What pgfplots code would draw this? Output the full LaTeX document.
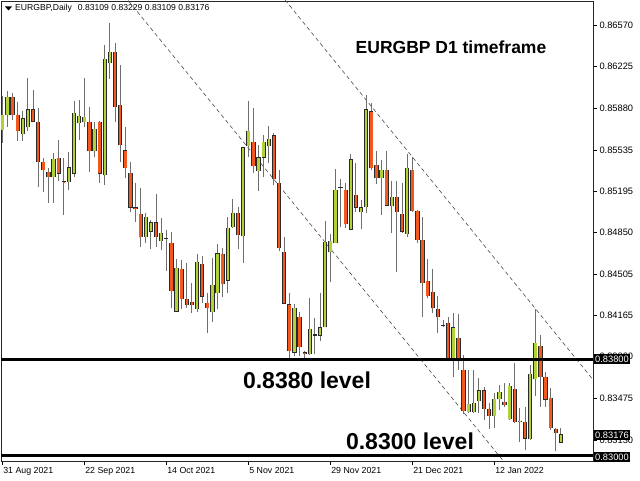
\documentclass[border=0pt]{standalone}
\usepackage{pgfplots}
\usepackage{pgfplotstable}
\pgfplotsset{compat=1.18}
\usepackage{fontspec}
\setmainfont{Liberation Sans}
\definecolor{bullc}{HTML}{B0D236}
\definecolor{bearc}{HTML}{F2591E}
\definecolor{wickc}{HTML}{6E6E6E}
\definecolor{edgec}{HTML}{2A2A2A}

% bullish candles (close >= open)
\pgfplotstableread{
i O H L C
0 0.85699 0.85981 0.85591 0.85824
1 0.85824 0.86023 0.85724 0.85973
4 0.85666 0.85857 0.85608 0.85791
5 0.85724 0.86130 0.85691 0.85873
10 0.85310 0.85509 0.85094 0.85459
13 0.85268 0.85517 0.85202 0.85392
14 0.85335 0.85940 0.85310 0.85840
15 0.85757 0.85948 0.85616 0.85815
16 0.85766 0.86130 0.85724 0.85807
18 0.85525 0.85766 0.85475 0.85708
20 0.85326 0.86404 0.85243 0.86288
21 0.86255 0.86587 0.86122 0.86346
28 0.84812 0.85011 0.84762 0.84978
29 0.84854 0.84953 0.84713 0.84936
31 0.84779 0.84970 0.84704 0.84845
34 0.84198 0.84630 0.84195 0.84555
38 0.84215 0.84671 0.84190 0.84605
41 0.84190 0.84638 0.84107 0.84414
42 0.84348 0.84754 0.84215 0.84679
44 0.84455 0.84978 0.84348 0.84887
45 0.84895 0.85127 0.84887 0.85011
47 0.84820 0.85558 0.84596 0.85555
48 0.85567 0.85940 0.85475 0.85691
50 0.85359 0.85575 0.85193 0.85475
51 0.85475 0.85658 0.85310 0.85600
52 0.85567 0.85732 0.85426 0.85625
57 0.83858 0.84256 0.83825 0.84223
60 0.83842 0.84306 0.83834 0.84049
61 0.83999 0.84140 0.83842 0.84001
62 0.83999 0.84348 0.83950 0.84058
63 0.84066 0.84945 0.84063 0.84771
64 0.84688 0.84837 0.84439 0.84779
65 0.84762 0.85376 0.84759 0.85202
68 0.84878 0.85500 0.84870 0.85451
70 0.85019 0.85119 0.84878 0.85053
71 0.85061 0.85990 0.85011 0.85873
74 0.85301 0.85451 0.84995 0.85368
76 0.85069 0.85276 0.84845 0.85144
79 0.84837 0.85500 0.84812 0.85384
88 0.83792 0.84182 0.83651 0.84058
91 0.83361 0.83709 0.83353 0.83427
92 0.83361 0.83709 0.83353 0.83436
93 0.83452 0.83643 0.83353 0.83543
96 0.83328 0.83518 0.83228 0.83469
97 0.83469 0.83585 0.83378 0.83527
99 0.83303 0.83601 0.83295 0.83577
101 0.83278 0.83394 0.83112 0.83286
103 0.83137 0.83751 0.83129 0.83676
104 0.83635 0.84215 0.83494 0.83933
109 0.83109 0.83229 0.83109 0.83176
}\bull

% bearish candles (close < open)
\pgfplotstableread{
i O H L C
2 0.85973 0.86006 0.85782 0.85824
3 0.85824 0.85931 0.85608 0.85691
6 0.85873 0.86031 0.85764 0.85768
7 0.85766 0.85882 0.85227 0.85434
8 0.85434 0.85467 0.85185 0.85368
9 0.85351 0.85384 0.85094 0.85310
11 0.85467 0.85616 0.85276 0.85335
12 0.85276 0.85467 0.84995 0.85268
17 0.85766 0.85890 0.85351 0.85525
19 0.85766 0.85774 0.85260 0.85335
22 0.86346 0.86421 0.85766 0.85890
23 0.85907 0.86238 0.85434 0.85575
24 0.85533 0.85724 0.85301 0.85384
25 0.85343 0.85434 0.85019 0.85053
26 0.85053 0.85260 0.84936 0.85044
27 0.85003 0.85218 0.84729 0.84812
30 0.84936 0.85169 0.84729 0.84812
32 0.84804 0.84870 0.84530 0.84800
33 0.84762 0.84854 0.84223 0.84364
35 0.84547 0.84621 0.84215 0.84298
36 0.84298 0.84596 0.84223 0.84248
37 0.84273 0.84431 0.84182 0.84248
39 0.84588 0.84654 0.84265 0.84315
40 0.84265 0.84348 0.84016 0.84223
43 0.84671 0.84721 0.84315 0.84422
46 0.85011 0.85061 0.84713 0.84829
49 0.85600 0.85882 0.85343 0.85401
53 0.85650 0.85674 0.85243 0.85293
54 0.85260 0.85368 0.84696 0.84721
55 0.84688 0.84812 0.84256 0.84260
56 0.84256 0.84348 0.83809 0.83867
58 0.84149 0.84190 0.83825 0.83900
59 0.83858 0.83867 0.83792 0.83842
66 0.85227 0.85293 0.84895 0.85224
67 0.85202 0.85260 0.84887 0.84920
69 0.85160 0.85426 0.85019 0.85053
72 0.85849 0.85923 0.85368 0.85384
73 0.85409 0.85525 0.85252 0.85301
75 0.85368 0.85525 0.85069 0.85077
77 0.85144 0.85276 0.84522 0.85019
78 0.85003 0.85260 0.84845 0.84854
80 0.85368 0.85475 0.85019 0.85028
81 0.85028 0.85036 0.84762 0.84787
82 0.84787 0.84978 0.84149 0.84431
83 0.84447 0.84630 0.84306 0.84323
84 0.84356 0.84547 0.84182 0.84223
85 0.84215 0.84323 0.84016 0.84149
86 0.84082 0.84124 0.84066 0.84078
87 0.84099 0.84149 0.83784 0.83809
89 0.83975 0.84174 0.83709 0.83784
90 0.83709 0.83834 0.83344 0.83369
94 0.83543 0.83568 0.83295 0.83386
95 0.83386 0.83436 0.83220 0.83328
98 0.83444 0.83601 0.83402 0.83419
100 0.83552 0.83767 0.83270 0.83278
102 0.83278 0.83402 0.83046 0.83145
105 0.83908 0.83999 0.83402 0.83651
106 0.83651 0.83693 0.83402 0.83461
107 0.83477 0.83560 0.83212 0.83228
108 0.83220 0.83228 0.83038 0.83187
}\bear

\pgfplotsset{
  candle/.style n args={2}{draw=none, mark=none, forget plot,
    error bars/.cd, y dir=plus, y explicit, error mark=none,
    error bar style={draw=#1, line width=#2, line cap=butt}},
}

\begin{document}
\begin{tikzpicture}[x=1pt,y=1pt]
\path[use as bounding box] (0,0) rectangle (640,480);
\fill[white] (0,0) rectangle (640,480);
\begin{axis}[
  at={(1pt,19pt)}, anchor=south west,
  scale only axis, width=592pt, height=460pt,
  xmin=-0.254, xmax=115.26, ymin=0.829547, ymax=0.867690,
  axis line style={draw=black!85, line width=0.8pt},
  xtick={0,16,32,48,64,80,96},
  xticklabels={31 Aug 2021, 22 Sep 2021, 14 Oct 2021, 5 Nov 2021, 29 Nov 2021, 21 Dec 2021, 12 Jan 2022},
  xticklabel style={anchor=north west, xshift=-2.5pt, yshift=1pt, font=\fontsize{8.8}{10}\selectfont},
  xtick pos=bottom, ytick pos=right, yticklabel pos=right,
  tick align=outside, major tick length=4pt,
  tick style={black, line width=0.6pt},
  scaled y ticks=false,
  ytick={0.83130,0.83475,0.83820,0.84165,0.84505,0.84850,0.85195,0.85535,0.85880,0.86225,0.86570},
  yticklabels={0.83130,0.83475,0.83820,0.84165,0.84505,0.84850,0.85195,0.85535,0.85880,0.86225,0.86570},
  yticklabel style={anchor=west, xshift=-1pt, font=\fontsize{9.3}{10}\selectfont},
  clip=true,
]
% channel lines
\addplot[black!70, line width=0.6pt, dash pattern=on 4pt off 3pt, forget plot] coordinates {(22,0.869069) (100,0.828384)};
\addplot[black!70, line width=0.6pt, dash pattern=on 4pt off 3pt, forget plot] coordinates {(50,0.870488) (120,0.833808)};
% wicks
\addplot[candle={wickc}{1pt}]
  table[x=i, y=L, y error plus expr={\thisrow{H}-\thisrow{L}}] {\bull};
\addplot[candle={wickc}{1pt}]
  table[x=i, y=L, y error plus expr={\thisrow{H}-\thisrow{L}}] {\bear};
% body outlines
\addplot[candle={edgec}{4.2pt}]
  table[x=i, y expr={\thisrow{O}-0.0000373}, y error plus expr={\thisrow{C}-\thisrow{O}+0.0000746}] {\bull};
\addplot[candle={edgec}{4.2pt}]
  table[x=i, y expr={\thisrow{C}-0.0000373}, y error plus expr={\thisrow{O}-\thisrow{C}+0.0000746}] {\bear};
% body fills
\addplot[candle={bullc}{2.4pt}]
  table[x=i, y expr={\thisrow{O}+0.0000373}, y error plus expr={max(\thisrow{C}-\thisrow{O}-0.0000746,0)}] {\bull};
\addplot[candle={bearc}{2.4pt}]
  table[x=i, y expr={\thisrow{C}+0.0000373}, y error plus expr={max(\thisrow{O}-\thisrow{C}-0.0000746,0)}] {\bear};
% horizontal levels
\addplot[black, line width=3pt, forget plot] coordinates {(-2,0.83800) (118,0.83800)};
\addplot[black, line width=3pt, forget plot] coordinates {(-2,0.83000) (118,0.83000)};
\end{axis}
% header
\fill[black] (5,473.5) -- (12,473.5) -- (8.5,469.5) -- cycle;
\node[anchor=west, inner sep=0pt, font=\fontsize{8.6}{9}\selectfont] at (15,471.5) {EURGBP,Daily\hspace{6pt}0.83109 0.83229 0.83109 0.83176};
% annotations
\node[font=\bfseries\fontsize{17.5}{18}\selectfont] at (451,433) {EURGBP D1 timeframe};
\node[font=\bfseries\fontsize{23}{24}\selectfont] at (307,100) {0.8380 level};
\node[font=\bfseries\fontsize{23}{24}\selectfont] at (410,39) {0.8300 level};
% price boxes
\node[fill=black, text=white, anchor=west, inner xsep=1.5pt, inner ysep=1.5pt, font=\fontsize{9.3}{10}\selectfont] at (593.5,121) {0.83800};
\node[fill=black, text=white, anchor=west, inner xsep=1.5pt, inner ysep=1.5pt, font=\fontsize{9.3}{10}\selectfont] at (593.5,45) {0.83176};
\node[fill=black, text=white, anchor=west, inner xsep=1.5pt, inner ysep=1.5pt, font=\fontsize{9.3}{10}\selectfont] at (593.5,23) {0.83000};
\end{tikzpicture}
\end{document}
